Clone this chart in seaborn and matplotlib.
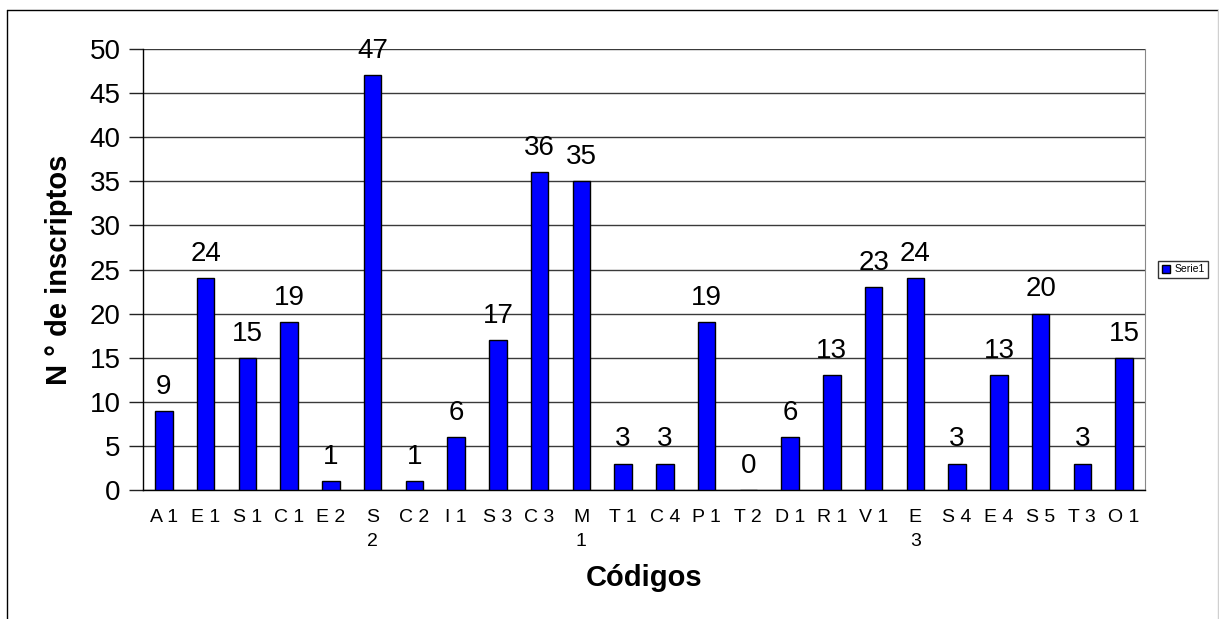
import matplotlib
matplotlib.use("Agg")
import matplotlib.pyplot as plt
import seaborn as sns
import pandas as pd
from matplotlib.lines import Line2D

categories = ["A 1", "E 1", "S 1", "C 1", "E 2", "S\n2", "C 2", "I 1", "S 3", "C 3",
              "M\n1", "T 1", "C 4", "P 1", "T 2", "D 1", "R 1", "V 1", "E\n3", "S 4",
              "E 4", "S 5", "T 3", "O 1"]
values = [9, 24, 15, 19, 1, 47, 1, 6, 17, 36, 35, 3, 3, 19, 0, 6, 13, 23, 24, 3, 13, 20, 3, 15]
series_name = "Serie1"
yticks = [0, 5, 10, 15, 20, 25, 30, 35, 40, 45, 50]

sns.set_style("white")
plt.rcParams['font.family'] = ['Liberation Sans', 'DejaVu Sans']
plt.rcParams['text.color'] = 'black'
plt.rcParams['axes.labelcolor'] = 'black'
plt.rcParams['xtick.color'] = 'black'
plt.rcParams['ytick.color'] = 'black'

df = pd.DataFrame({"cat": categories, "val": values, "serie": [series_name] * len(values)})

W, H = 1219, 619
fig = plt.figure(figsize=(W / 100, H / 100), dpi=100)
ax = fig.add_axes([143/W, 1 - 490/H, (1145-143)/W, (490-49)/H])

sns.barplot(data=df, x="cat", y="val", hue="serie", palette={series_name: "#0000FF"},
            saturation=1, dodge=False, width=0.42, edgecolor="black", linewidth=1,
            ax=ax, zorder=3)

for c in ax.containers:
    ax.bar_label(c, fontsize=20, padding=8, color="black")

ax.set_ylim(0, 50)
ax.set_xlim(-0.5, len(categories) - 0.5)
ax.set_yticks(yticks)
ax.set_yticklabels([str(t) for t in yticks], fontsize=20)
ax.yaxis.grid(True, color="#3a3a3a", linewidth=1, zorder=0)
ax.set_axisbelow(True)

ax.set_xticks(range(len(categories)))
ax.set_xticklabels(categories, fontsize=14, linespacing=1.5, va="top")
ax.tick_params(axis="x", which="major", length=0, pad=14)
ax.set_xticks([i + 0.5 for i in range(-1, len(categories))], minor=True)
ax.tick_params(axis="x", which="minor", length=7, direction="out", color="black", width=1)
ax.tick_params(axis="y", length=10, direction="out", color="#222222", width=1, pad=6, left=True)

for s in ["left", "bottom"]:
    ax.spines[s].set_color("black")
    ax.spines[s].set_linewidth(1)
ax.spines["top"].set_visible(False)
ax.spines["right"].set_color("#888888")

ax.set_xlabel("Códigos", fontsize=21, fontweight="bold", labelpad=10)
ax.set_ylabel("N ° de inscriptos", fontsize=21, fontweight="bold", labelpad=12)

leg = ax.legend(loc="center left", bbox_to_anchor=(1.013, 0.5), fontsize=7.5, frameon=True,
                fancybox=False, edgecolor="black", handlelength=0.8, handleheight=0.8,
                handletextpad=0.4, borderpad=0.35, borderaxespad=0)
leg.get_frame().set_linewidth(1)

# figure frame: black left/top, light gray right, open bottom
fig.add_artist(Line2D([7/W, 7/W], [0, 1 - 10/H], transform=fig.transFigure, color="black", lw=1))
fig.add_artist(Line2D([7/W, 1218/W], [1 - 10/H, 1 - 10/H], transform=fig.transFigure, color="black", lw=1))
fig.add_artist(Line2D([1218/W, 1218/W], [0, 1 - 10/H], transform=fig.transFigure, color="#d0d0d0", lw=1))

fig.savefig("out.png", dpi=100)
